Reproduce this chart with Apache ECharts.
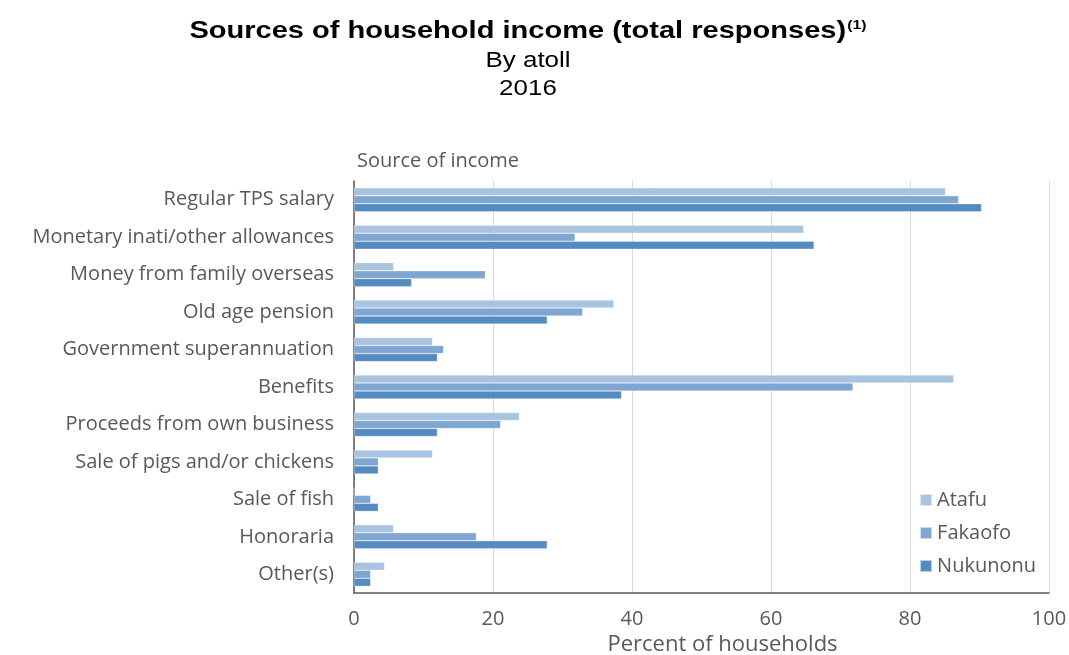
<!DOCTYPE html>
<html>
<head>
<meta charset="utf-8">
<script src="https://cdn.jsdelivr.net/npm/echarts@6/dist/echarts.min.js"></script>
<style>
  html, body { margin: 0; padding: 0; background: #fff; }
  #chart { width: 1069px; height: 655px; }
</style>
</head>
<body>
<div id="chart"></div>
<script>
// Dati
const categories = [
  "Regular TPS salary",
  "Monetary inati/other allowances",
  "Money from family overseas",
  "Old age pension",
  "Government superannuation",
  "Benefits",
  "Proceeds from own business",
  "Sale of pigs and/or chickens",
  "Sale of fish",
  "Honoraria",
  "Other(s)"
];
const atafu =    [85.1, 64.7, 5.7, 37.4, 11.3, 86.3, 23.8, 11.3, 0, 5.7, 4.4];
const fakaofo =  [87.0, 31.8, 18.9, 32.9, 12.9, 71.8, 21.1, 3.5, 2.4, 17.6, 2.4];
const nukunonu = [90.3, 66.2, 8.3, 27.8, 12.0, 38.5, 12.0, 3.5, 3.5, 27.8, 2.4];
const xTicks = [0, 20, 40, 60, 80, 100];

const grey = "#595959";
const labelFont = "'Open Sans', Lato, sans-serif";
const titleFont = "'Liberation Sans', Arial, sans-serif";

function createSeries(name, data, color) {
  return {
    name,
    type: "bar",
    data,
    barWidth: 8,
    barGap: "0%",
    itemStyle: { color, borderColor: "rgba(255,255,255,0.6)", borderWidth: 0.5 },
    emphasis: { disabled: true }
  };
}

const chart = echarts.init(document.getElementById("chart"));
chart.setOption({
  animation: false,
  // Titolo: il riferimento è leggermente allargato in orizzontale
  graphic: [
    {
      type: "text",
      x: 528,
      y: 19,
      scaleX: 1.21,
      style: {
        text: "{t|Sources of household income (total responses)}{s|(1)}",
        textAlign: "center",
        rich: {
          t: { fontFamily: titleFont, fontWeight: "bold", fontSize: 24, fill: "#000" },
          s: { fontFamily: titleFont, fontWeight: "bold", fontSize: 13, fill: "#000", verticalAlign: "top", padding: [0, 0, 10, 1] }
        }
      }
    },
    {
      type: "text",
      x: 528,
      y: 47,
      scaleX: 1.18,
      style: {
        text: "By atoll\n2016",
        textAlign: "center",
        fontFamily: titleFont,
        fontSize: 22,
        lineHeight: 28,
        fill: "#000"
      }
    }
  ],
  title: {
    text: "Source of income",
    left: 357,
    top: 151,
    padding: 0,
    textStyle: { fontFamily: labelFont, fontWeight: "normal", fontSize: 20, color: grey }
  },
  legend: {
    orient: "vertical",
    right: 28,
    top: 485,
    itemWidth: 12,
    itemHeight: 12,
    itemGap: 13,
    icon: "rect",
    textStyle: { fontFamily: labelFont, fontSize: 20, color: grey },
    data: ["Atafu", "Fakaofo", "Nukunonu"]
  },
  grid: { left: 354, right: 20, top: 181, bottom: 62, outerBoundsMode: "none" },
  xAxis: {
    type: "value",
    min: xTicks[0],
    max: xTicks[xTicks.length - 1],
    interval: 20,
    name: "Percent of households",
    nameLocation: "middle",
    nameGap: 40,
    nameTextStyle: { fontFamily: labelFont, fontSize: 22, color: grey, padding: [0, 0, 0, 42] },
    axisLine: { show: true, lineStyle: { color: grey, width: 1.5 } },
    axisTick: { show: false },
    axisLabel: { margin: 16, fontFamily: labelFont, fontSize: 20, color: grey },
    splitLine: { lineStyle: { color: "#d9d9d9", width: 1 } }
  },
  yAxis: {
    type: "category",
    inverse: true,
    data: categories,
    axisLine: { show: true, lineStyle: { color: grey, width: 1.5 } },
    axisTick: { show: false },
    axisLabel: { margin: 20, fontFamily: labelFont, fontSize: 20, color: grey }
  },
  series: [
    createSeries("Atafu", atafu, "#a9c4e0"),
    createSeries("Fakaofo", fakaofo, "#7fa6d1"),
    createSeries("Nukunonu", nukunonu, "#548bc2")
  ]
});
</script>
</body>
</html>
